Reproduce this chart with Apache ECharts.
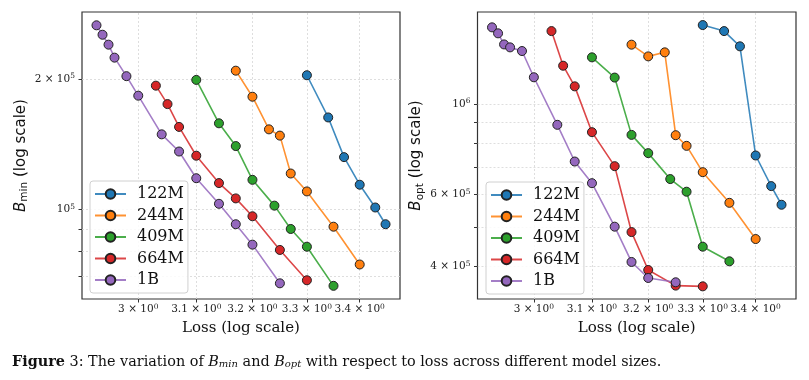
<!DOCTYPE html>
<html>
<head>
<meta charset="utf-8">
<script src="https://cdn.jsdelivr.net/npm/echarts@6/dist/echarts.min.js"></script>
<style>
html,body{margin:0;padding:0;background:#fff;}
#chart{width:809px;height:380px;}
</style>
</head>
<body>
<div id="chart"></div>
<script>
// ---- data ----
const modelNames = ['122M', '244M', '409M', '664M', '1B'];
const seriesColors = ['#1f77b4', '#ff7f0e', '#2ca02c', '#d62728', '#9467bd'];

const loss122M = [3.30, 3.34, 3.37, 3.40, 3.43, 3.45];
const loss244M = [3.17, 3.20, 3.23, 3.25, 3.27, 3.30, 3.35, 3.40];
const loss409M = [3.10, 3.14, 3.17, 3.20, 3.24, 3.27, 3.30, 3.35];
const loss664M = [3.03, 3.05, 3.07, 3.10, 3.14, 3.17, 3.20, 3.25, 3.30];
const loss1B   = [2.93, 2.94, 2.95, 2.96, 2.98, 3.00, 3.04, 3.07, 3.10, 3.14, 3.17, 3.20, 3.25];

const bmin122M = [204000, 163000, 132000, 114000, 101000, 92400];
const bmin244M = [209000, 182000, 153000, 148000, 121000, 110000, 91200, 74600];
const bmin409M = [199000, 158000, 140000, 117000, 102000, 90100, 82000, 66600];
const bmin664M = [193000, 175000, 155000, 133000, 115000, 106000, 96400, 80600, 68600];
const bmin1B   = [266000, 253000, 240000, 224000, 203000, 183000, 149000, 136000, 118000, 103000, 92400, 82900, 67500];

const bopt122M = [1559000, 1507000, 1383000, 748000, 629500, 566800];
const bopt244M = [1396000, 1307000, 1337000, 838500, 789700, 681000, 573000, 467300];
const bopt409M = [1300000, 1160000, 840000, 758000, 655000, 610000, 447600, 412200];
const bopt664M = [1507000, 1240000, 1104000, 853000, 704400, 486000, 392600, 359500, 358000];
const bopt1B   = [1539000, 1488000, 1398000, 1375000, 1347000, 1162000, 889000, 723000, 640000, 501000, 410700, 375300, 366300];

// tick values
const lossTicks = [3.0, 3.1, 3.2, 3.3, 3.4];
const bminLabelTicks = [100000, 200000];
const bminTicks = [70000, 80000, 90000, 100000, 200000];
const boptLabelTicks = [400000, 600000, 1000000];
const boptTicks = [400000, 500000, 600000, 700000, 800000, 900000, 1000000];

// ---- chart ----
const lossList = [loss122M, loss244M, loss409M, loss664M, loss1B];
const bminList = [bmin122M, bmin244M, bmin409M, bmin664M, bmin1B];
const boptList = [bopt122M, bopt244M, bopt409M, bopt664M, bopt1B];

const SERIF = 'DejaVu Serif';
const supRich = {
  base: {fontFamily: SERIF, fontSize: 10.5, color: '#222', lineHeight: 13},
  sup: {fontFamily: SERIF, fontSize: 7.5, color: '#222', verticalAlign: 'top', lineHeight: 9}
};

function lossFmt(v) {
  const r = Math.round(v * 10) / 10;
  const s = (Math.abs(r - 3) < 1e-9) ? '3' : r.toFixed(1);
  return '{base|' + s + ' × 10}{sup|0}';
}
function powFmt(v) {
  const e = Math.floor(Math.log10(v) + 1e-9);
  const m = Math.round(v / Math.pow(10, e));
  return m === 1 ? '{base|10}{sup|' + e + '}' : '{base|' + m + ' × 10}{sup|' + e + '}';
}

const gridLineStyle = {color: '#d6d6d6', width: 0.8, type: [2, 2]};

function xAxisCfg(gridIndex) {
  return {
    type: 'log', logBase: 10, gridIndex: gridIndex,
    min: 2.9061, max: 3.4783,
    name: 'Loss (log scale)', nameLocation: 'middle', nameGap: 22,
    nameTextStyle: {fontFamily: SERIF, fontSize: 15, color: '#111'},
    axisLine: {show: false},
    axisTick: {show: true, length: 3.5, customValues: lossTicks, lineStyle: {color: '#333', width: 1}},
    axisLabel: {customValues: lossTicks, formatter: lossFmt, rich: supRich, margin: 4,
                hideOverlap: false, showMinLabel: true, showMaxLabel: true},
    splitLine: {show: false},
    minorTick: {show: false}, minorSplitLine: {show: false}
  };
}
function yAxisCfg(gridIndex, min, max, ticks, labelTicks, sub, gap) {
  return {
    type: 'log', logBase: 10, gridIndex: gridIndex,
    min: min, max: max,
    name: '{i|B}{s|' + sub + '} {n|(log scale)}', nameLocation: 'middle', nameRotate: 90, nameGap: gap,
    nameTextStyle: {
      fontFamily: 'DejaVu Sans', fontSize: 15, color: '#111',
      rich: {
        i: {fontFamily: 'DejaVu Sans', fontStyle: 'italic', fontSize: 15, color: '#111', lineHeight: 18},
        s: {fontFamily: 'DejaVu Sans', fontSize: 10.5, color: '#111', verticalAlign: 'bottom', lineHeight: 13},
        n: {fontFamily: 'DejaVu Sans', fontSize: 15, color: '#111', lineHeight: 18}
      }
    },
    axisLine: {show: false},
    axisTick: {show: true, length: 3.5, customValues: ticks, lineStyle: {color: '#333', width: 1}},
    axisLabel: {customValues: labelTicks, formatter: powFmt, rich: supRich, margin: 7,
                hideOverlap: false, showMinLabel: true, showMaxLabel: true},
    splitLine: {show: false},
    minorTick: {show: false}, minorSplitLine: {show: false}
  };
}

const series = [];
// grid lines drawn at the tick values through the axes
[bminTicks, boptTicks].forEach((yt, k) => {
  series.push({
    type: 'line', name: 'grid' + k, xAxisIndex: k, yAxisIndex: k, data: [],
    silent: true, z: 0,
    markLine: {
      silent: true, z: 0, symbol: ['none', 'none'], label: {show: false},
      lineStyle: gridLineStyle, emphasis: {disabled: true},
      data: lossTicks.map(v => ({xAxis: v})).concat(yt.map(v => ({yAxis: v})))
    }
  });
});
for (let k = 0; k < 2; k++) {
  const yList = k === 0 ? bminList : boptList;
  modelNames.forEach((name, i) => {
    series.push({
      type: 'line', name: name, xAxisIndex: k, yAxisIndex: k,
      data: lossList[i].map((x, j) => [x, yList[i][j]]),
      symbol: 'circle', symbolSize: 9,
      lineStyle: {color: seriesColors[i], width: 1.6, opacity: 0.85},
      itemStyle: {color: seriesColors[i], borderColor: '#222', borderWidth: 1, opacity: 1},
      emphasis: {disabled: true},
      animation: false, z: 2 + i
    });
  });
}

function legendCfg(left, top) {
  return {
    data: modelNames, orient: 'vertical', left: left, top: top,
    backgroundColor: 'rgba(255,255,255,0.85)', borderColor: '#d0d0d0', borderWidth: 1, borderRadius: 3,
    padding: [5, 4, 5, 4], itemWidth: 31, itemHeight: 12, itemGap: 5.5,
    textStyle: {fontFamily: SERIF, fontSize: 16, color: '#111', lineHeight: 16, padding: [0, 0, 0, 6]},
    selectedMode: false, z: 20
  };
}

const chart = echarts.init(document.getElementById('chart'), null, {renderer: 'canvas'});
chart.setOption({
  animation: false,
  backgroundColor: '#fff',
  grid: [
    {left: 82, top: 12, width: 318, height: 287, show: true, borderColor: '#333', borderWidth: 1.2, backgroundColor: 'transparent'},
    {left: 477.5, top: 12, width: 318.5, height: 287, show: true, borderColor: '#333', borderWidth: 1.2, backgroundColor: 'transparent'}
  ],
  xAxis: [xAxisCfg(0), xAxisCfg(1)],
  yAxis: [
    yAxisCfg(0, 62100, 285500, bminTicks, bminLabelTicks, 'min', 52),
    yAxisCfg(1, 333400, 1678000, boptTicks, boptLabelTicks, 'opt', 52)
  ],
  legend: [legendCfg(90, 181), legendCfg(486, 182)],
  series: series,
  graphic: [{
    type: 'text', left: 12, top: 355,
    style: {
      text: '{b|Figure} 3: The variation of {i|B}{s|min} and {i|B}{s|opt} with respect to loss across different model sizes.',
      font: '14.4px "DejaVu Serif"', fill: '#111',
      rich: {
        b: {fontFamily: 'DejaVu Serif', fontWeight: 'bold', fontSize: 14.4, fill: '#111'},
        i: {fontFamily: 'DejaVu Serif', fontStyle: 'italic', fontSize: 14.4, fill: '#111'},
        s: {fontFamily: 'DejaVu Serif', fontStyle: 'italic', fontSize: 10, fill: '#111', verticalAlign: 'bottom', lineHeight: 12}
      }
    }
  }]
});
</script>
</body>
</html>
